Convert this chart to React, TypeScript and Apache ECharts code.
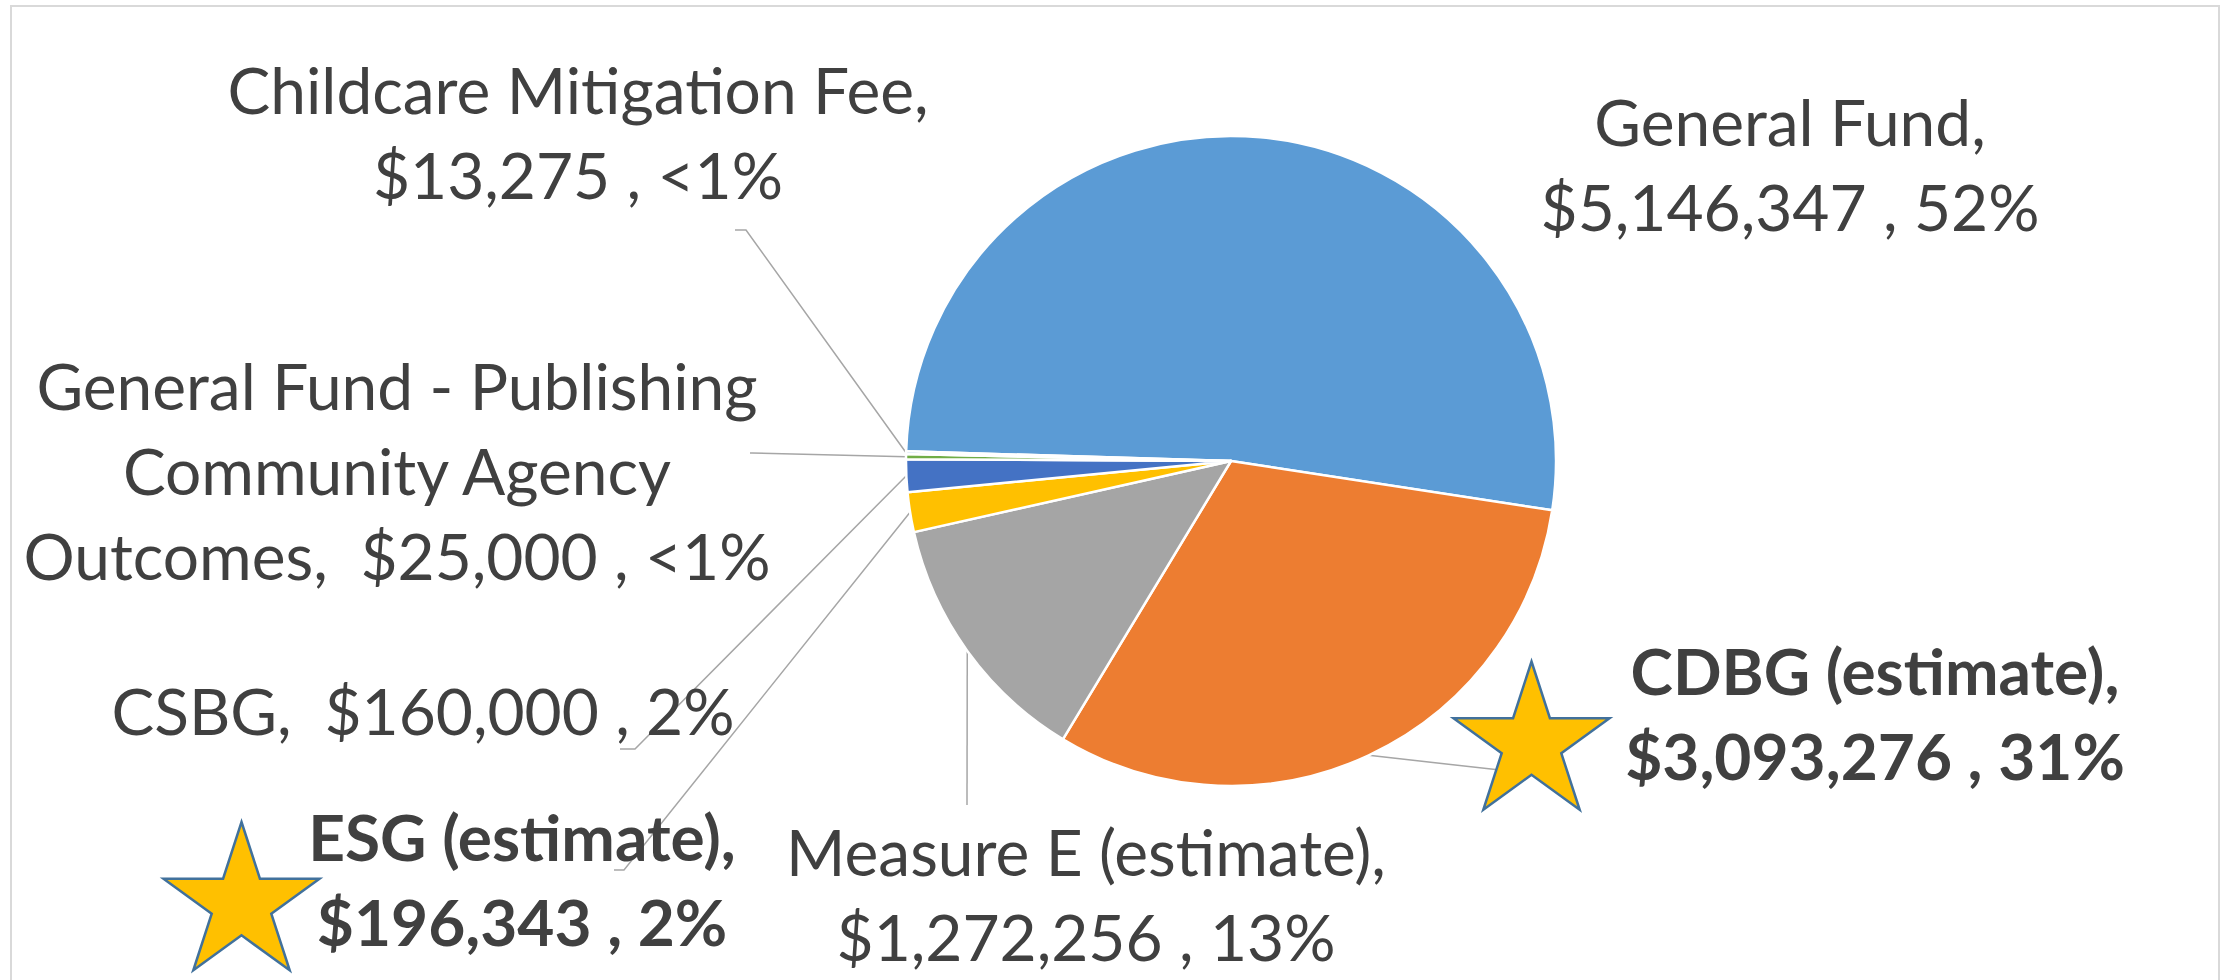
import React, { useEffect, useRef } from 'react';
import * as echarts from 'echarts';

// ---- data ----
const categories = [
  'General Fund',
  'CDBG (estimate)',
  'Measure E (estimate)',
  'ESG (estimate)',
  'CSBG',
  'General Fund - Publishing\nCommunity Agency\nOutcomes',
  'Childcare Mitigation Fee',
];
const amounts = [5146347, 3093276, 1272256, 196343, 160000, 25000, 13275];
const valueSeparators = ['\n', '\n', '\n', '\n', '  ', '  ', '\n'];
const highlighted = [false, true, false, true, false, false, false];

// ---- styles / layout ----
const sliceColors = ['#5B9BD5', '#ED7D31', '#A5A5A5', '#FFC000', '#4472C4', '#70AD47', '#9DC3E6'];
const PIE_CENTER = [1231, 461];
const PIE_RADIUS = 325;
const START_ANGLE = 178.3;
const labelAnchors: number[][] = [
  [1790, 164],
  [1875, 713],
  [1086, 894],
  [522, 879],
  [423, 710],
  [397, 470],
  [578, 132],
];
const leaderEnds: (number[][] | null)[] = [
  null,
  [[1500, 770], [1500, 770]],
  [[967, 805], [967, 805]],
  [[624, 870], [614, 870]],
  [[635, 749], [620, 749]],
  [[752, 453], [750, 453]],
  [[746, 230], [735, 230]],
];
const stars = [
  { cx: 1531.5, cy: 743.5, r: 82 },
  { cx: 241.5, cy: 904, r: 82 },
];

function starPoints(cx: number, cy: number, r: number) {
  const pts: number[][] = [];
  const inner = r * 0.382;
  for (let k = 0; k < 10; k++) {
    const a = -Math.PI / 2 + (k * Math.PI) / 5;
    const rr = k % 2 === 0 ? r : inner;
    pts.push([cx + rr * Math.cos(a), cy + rr * Math.sin(a)]);
  }
  return pts;
}

function fmtPct(p: number) {
  return p < 1 ? '<1%' : Math.round(p) + '%';
}

export default function App() {
  const ref = useRef<HTMLDivElement>(null);
  useEffect(() => {
    if (!ref.current) return;
    const chart = echarts.init(ref.current, null, { renderer: 'svg' });
    const total = amounts.reduce((a, b) => a + b, 0);

    // fallback leader start points (slice mid-angle on the rim)
    const midAngles: number[] = [];
    let acc = START_ANGLE;
    amounts.forEach((v) => {
      const span = (v / total) * 360;
      midAngles.push(acc - span / 2);
      acc -= span;
    });

    const data = categories.map((name, i) => ({
      name,
      value: amounts[i],
      itemStyle: { color: sliceColors[i] },
      label: { fontWeight: highlighted[i] ? 'bold' : 'normal' },
      labelLine: { show: leaderEnds[i] !== null },
    }));

    chart.setOption({
      animation: false,
      backgroundColor: '#ffffff',
      graphic: [
        {
          type: 'rect',
          z: 0,
          shape: { x: 11, y: 6, width: 2208, height: 1000 },
          style: { fill: 'none', stroke: '#D9D9D9', lineWidth: 2 },
        },
        ...stars.map((s) => ({
          type: 'polygon',
          z: 100,
          shape: { points: starPoints(s.cx, s.cy, s.r) },
          style: { fill: '#FFC000', stroke: '#41719C', lineWidth: 2.5 },
        })),
      ],
      series: [
        {
          type: 'pie',
          center: PIE_CENTER,
          radius: PIE_RADIUS,
          startAngle: START_ANGLE,
          clockwise: true,
          avoidLabelOverlap: false,
          itemStyle: { borderColor: '#ffffff', borderWidth: 2.5 },
          label: {
            show: true,
            position: 'outside',
            fontFamily: 'Lato',
            fontSize: 64,
            lineHeight: 85,
            color: '#404040',
            align: 'center',
            formatter: (p: any) => {
              const i = p.dataIndex;
              const pct = (amounts[i] / total) * 100;
              return `${categories[i]},${valueSeparators[i]}$${amounts[i].toLocaleString('en-US')} , ${fmtPct(pct)}`;
            },
          },
          labelLine: {
            show: true,
            length: 10,
            length2: 10,
            lineStyle: { color: '#A6A6A6', width: 1.5 },
          },
          labelLayout: (params: any) => {
            const i = params.dataIndex;
            const [x, y] = labelAnchors[i];
            const res: any = { x, y, align: 'center', verticalAlign: 'middle' };
            const ends = leaderEnds[i];
            if (ends) {
              let start: number[];
              if (params.labelLinePoints && params.labelLinePoints[0]) {
                start = params.labelLinePoints[0];
              } else {
                const a = (midAngles[i] * Math.PI) / 180;
                start = [PIE_CENTER[0] + PIE_RADIUS * Math.cos(a), PIE_CENTER[1] - PIE_RADIUS * Math.sin(a)];
              }
              res.labelLinePoints = [start, ...ends];
            }
            return res;
          },
          data,
        },
      ],
    });
    return () => chart.dispose();
  }, []);
  return (
    <div
      ref={ref}
      style={{ position: 'absolute', left: 0, top: 0, width: 2231, height: 980 }}
    />
  );
}
